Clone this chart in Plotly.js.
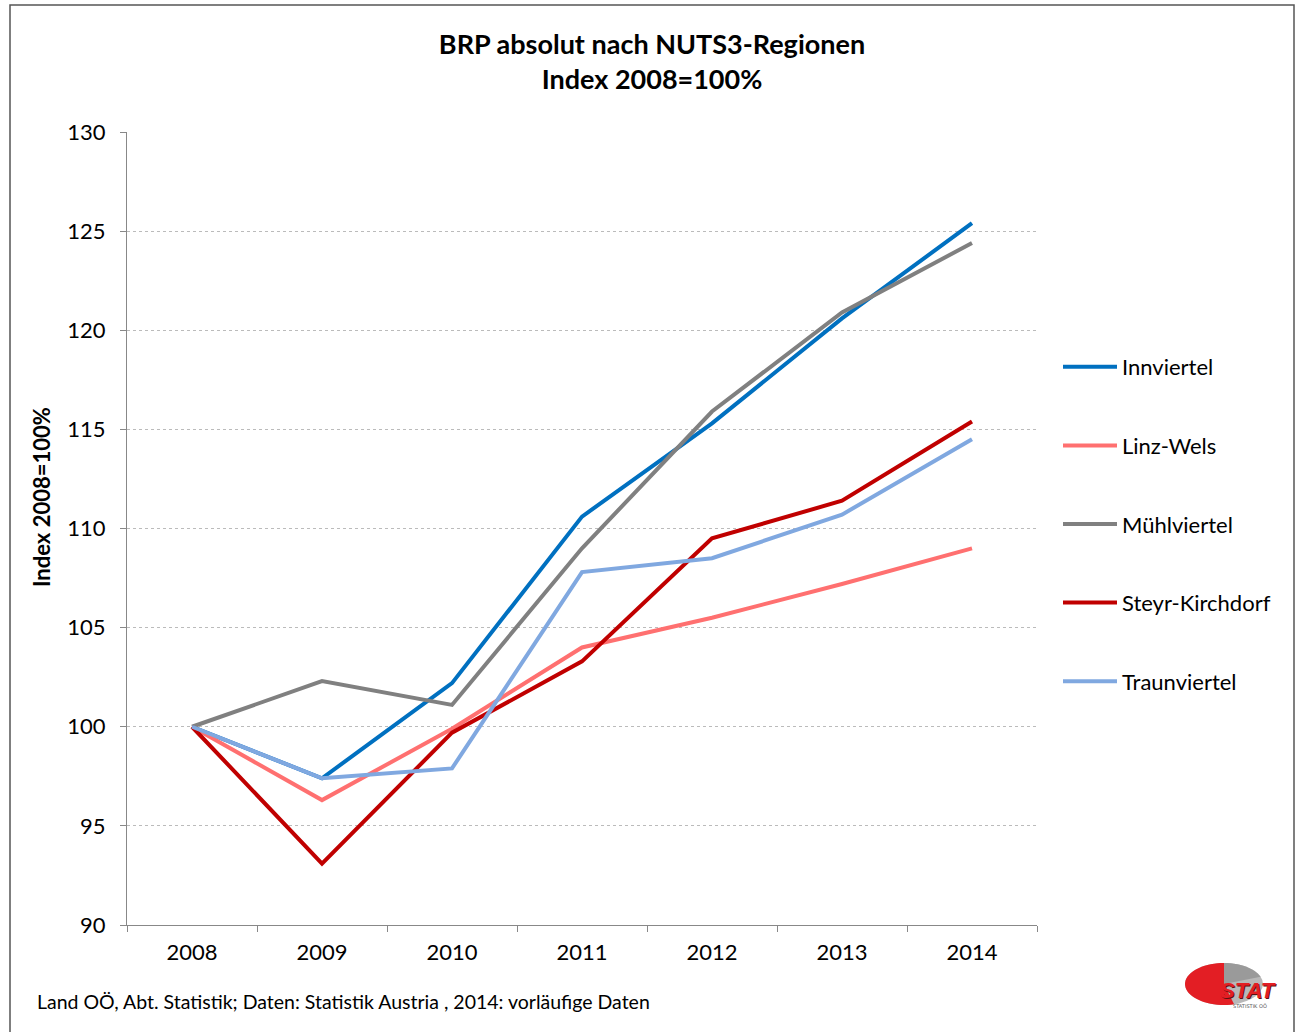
<!DOCTYPE html>
<html>
<head>
<meta charset="utf-8">
<script src="https://cdn.plot.ly/plotly-3.0.1.min.js"></script>
<style>
html,body{margin:0;padding:0;background:#fff;}
#chart{width:1297px;height:1032px;}
</style>
</head>
<body>
<div id="chart"></div>
<script>
const years = ["2008","2009","2010","2011","2012","2013","2014"];
const innviertel = [100, 97.4, 102.2, 110.6, 115.3, 120.6, 125.4];
const linzWels = [100, 96.3, 99.9, 104.0, 105.5, 107.2, 109.0];
const muehlviertel = [100, 102.3, 101.1, 109.0, 115.9, 120.9, 124.4];
const steyrKirchdorf = [100, 93.1, 99.7, 103.3, 109.5, 111.4, 115.4];
const traunviertel = [100, 97.4, 97.9, 107.8, 108.5, 110.7, 114.5];
const seriesNames = ["Innviertel","Linz-Wels","Mühlviertel","Steyr-Kirchdorf","Traunviertel"];
const seriesValues = [innviertel, linzWels, muehlviertel, steyrKirchdorf, traunviertel];
const seriesColors = ["#0070C0","#FF7070","#808080","#C00000","#80A8E0"];
const yTicks = [90,95,100,105,110,115,120,125,130];

const FONT = "Lato, 'Open Sans', sans-serif";

// plot area in pixels
const L = 127, R = 1037, T = 132, B = 925;
const px = x => (x - L) / (R - L);
const py = y => (B - y) / (B - T);

const traces = seriesNames.map((n, i) => ({
  type: "scatter",
  mode: "lines",
  name: n,
  legendgroup: "g" + i,
  x: years,
  y: seriesValues[i],
  line: {color: seriesColors[i], width: 4},
  hoverinfo: "x+y+name"
}));

// logo geometry (pixels)
const cx = 1224, cy = 984, rx = 39, ry = 21;
function ellPt(angDeg){
  const a = angDeg * Math.PI/180;
  return [cx + rx*Math.cos(a), cy - ry*Math.sin(a)];
}
function sectorPath(a0, a1){
  let d = "M " + px(cx) + "," + py(cy);
  for(let a=a0; a<=a1; a+=5){
    const p = ellPt(a);
    d += " L " + px(p[0]) + "," + py(p[1]);
  }
  return d + " Z";
}

const layout = {
  width: 1297, height: 1032,
  paper_bgcolor: "#ffffff", plot_bgcolor: "#ffffff",
  margin: {l: L, r: 1297 - R, t: T, b: 1032 - B, pad: 0},
  font: {family: FONT, color: "#000", size: 22},
  title: {
    text: "BRP absolut nach NUTS3-Regionen<br>Index 2008=100%",
    font: {family: FONT, size: 27, weight: "bold", color: "#000"},
    x: 652/1297, xanchor: "center", xref: "container",
    y: 1 - 54/1032, yanchor: "middle", yref: "container"
  },
  xaxis: {
    type: "category",
    tickvals: years, ticktext: years,
    range: [-0.5, 6.5],
    showgrid: false, zeroline: false,
    showline: true, linecolor: "#888888", linewidth: 1,
    ticks: "outside", tickson: "boundaries", ticklen: 6, tickcolor: "#888888",
    tickfont: {family: FONT, size: 22, color: "#000"},
    ticklabelstandoff: 8,
    fixedrange: true
  },
  yaxis: {
    range: [90, 130],
    tickvals: yTicks, ticktext: yTicks.map(String),
    showgrid: true, gridcolor: "#BBBBBB", griddash: "dot", gridwidth: 1,
    zeroline: false,
    showline: true, linecolor: "#888888", linewidth: 1,
    ticks: "outside", ticklen: 6, tickcolor: "#888888",
    tickfont: {family: FONT, size: 22, color: "#000"},
    ticklabelstandoff: 10,
    fixedrange: true
  },
  showlegend: true,
  legend: {
    x: px(1058), xanchor: "left",
    y: py(346), yanchor: "top",
    font: {family: FONT, size: 22, color: "#000"},
    tracegroupgap: 47,
    itemwidth: 54,
    bgcolor: "rgba(0,0,0,0)"
  },
  shapes: [
    {type: "rect", xref: "paper", yref: "paper",
     x0: px(10), x1: px(1294), y0: py(1040), y1: py(5),
     line: {color: "#555555", width: 1.5}, fillcolor: "rgba(0,0,0,0)", layer: "below"},
    {type: "circle", xref: "paper", yref: "paper",
     x0: px(cx - rx), x1: px(cx + rx), y0: py(cy + ry), y1: py(cy - ry),
     line: {width: 0}, fillcolor: "#B8B8B8"},
    {type: "path", xref: "paper", yref: "paper", path: sectorPath(20, 90),
     line: {width: 0}, fillcolor: "#9A9A9A"},
    {type: "path", xref: "paper", yref: "paper", path: sectorPath(90, 285),
     line: {width: 0}, fillcolor: "#E31E24"}
  ],
  annotations: [
    {text: "<b>Index 2008=100%</b>",
     xref: "paper", yref: "paper", x: px(41), y: py(497), xanchor: "center", yanchor: "middle",
     textangle: -90, showarrow: false, font: {family: FONT, size: 22, color: "#000"}},
    {text: "Land OÖ, Abt. Statistik; Daten: Statistik Austria , 2014: vorläufige Daten",
     xref: "paper", yref: "paper", x: px(35), y: py(1001), xanchor: "left", yanchor: "middle",
     showarrow: false, font: {family: FONT, size: 19.5, color: "#000"}},
    {text: "<b><i>STAT</i></b>",
     xref: "paper", yref: "paper", x: px(1248), y: py(990), xanchor: "center", yanchor: "middle",
     showarrow: false, font: {family: "'Liberation Sans', Arial, sans-serif", size: 22, color: "#E31E24", shadow: "1px 1px 0 #5a1010"}},
    {text: "STATISTIK OÖ",
     xref: "paper", yref: "paper", x: px(1250), y: py(1006), xanchor: "center", yanchor: "middle",
     showarrow: false, font: {family: "'DejaVu Sans', sans-serif", size: 5, color: "#555"}}
  ]
};

Plotly.newPlot("chart", traces, layout, {displayModeBar: false, staticPlot: true});
</script>
</body>
</html>
